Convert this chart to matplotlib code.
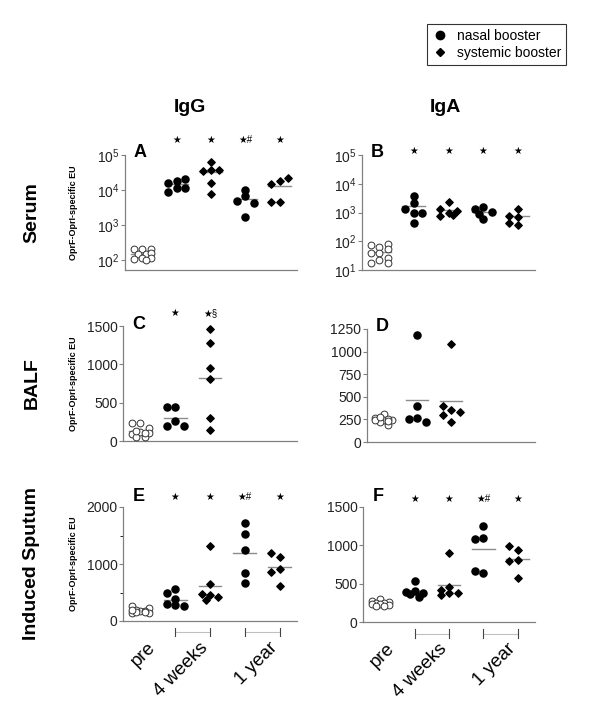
import numpy as np
import matplotlib
matplotlib.use('Agg')
import matplotlib.pyplot as plt
from matplotlib.lines import Line2D
from matplotlib.ticker import FixedLocator, NullLocator, MultipleLocator
import matplotlib.transforms as mtransforms

plt.rcParams['font.family'] = ['Liberation Sans', 'DejaVu Sans']
plt.rcParams['mathtext.default'] = 'regular'

# groups along x: pre, 4 weeks (nasal, systemic), 1 year (nasal, systemic)
time_labels = ['pre', '4 weeks', '1 year']
group_markers = ['open', 'nasal', 'systemic', 'nasal', 'systemic']

# A: IgG serum
igg_serum_pre = [205, 200, 210, 150, 145, 155, 112, 108, 115, 100]
igg_serum_nasal_4w = [18500, 16000, 21000, 11000, 11000, 8600]
igg_serum_syst_4w = [62000, 36000, 34000, 37000, 16000, 7700]
igg_serum_nasal_1y = [10000, 6500, 4900, 4300, 1650]
igg_serum_syst_1y = [18500, 14800, 22500, 4500, 4500]

# B: IgA serum
iga_serum_pre = [62, 74, 80, 54, 38, 38, 27, 22, 17, 18]
iga_serum_nasal_4w = [3850, 2090, 1360, 1000, 1000, 420]
iga_serum_syst_4w = [990, 1300, 2260, 1170, 760, 820]
iga_serum_nasal_1y = [1520, 1330, 1015, 578, 865]
iga_serum_syst_1y = [1365, 718, 780, 369, 445]

# C: IgG BALF
igg_balf_pre = [240, 240, 170, 115, 96, 105, 52, 52, 130, 100]
igg_balf_nasal_4w = [445, 445, 257, 192, 192]
igg_balf_syst_4w = [1460, 1273, 946, 807, 305, 148]

# D: IgA BALF
iga_balf_pre = [310, 265, 247, 247, 218, 192, 255, 240, 235, 280]
iga_balf_nasal_4w = [1180, 395, 265, 258, 218]
iga_balf_syst_4w = [1088, 358, 402, 332, 295, 218]

# E: IgG induced sputum
igg_sput_pre = [175, 268, 220, 200, 146, 134, 180, 160, 190, 150]
igg_sput_nasal_4w = [554, 484, 379, 292, 268, 280]
igg_sput_syst_4w = [1312, 641, 455, 466, 426, 367]
igg_sput_nasal_1y = [1720, 1522, 1242, 834, 659]
igg_sput_syst_1y = [921, 1131, 1201, 863, 618]

# F: IgA induced sputum
iga_sput_pre = [300, 280, 260, 250, 245, 240, 230, 220, 215, 210]
iga_sput_nasal_4w = [535, 400, 390, 380, 360, 320]
iga_sput_syst_4w = [900, 456, 422, 378, 378, 348]
iga_sput_nasal_1y = [1100, 1257, 1083, 639, 661]
iga_sput_syst_1y = [813, 943, 996, 791, 578]

# significance marks above each group
marks_A = ['', '★', '★', '★#', '★']
marks_B = ['', '★', '★', '★', '★']
marks_C = ['', '★', '★§']
marks_E = ['', '★', '★', '★#', '★']
marks_F = ['', '★', '★', '★#', '★']

W, H = 600, 718
fig = plt.figure(figsize=(W / 100, H / 100), dpi=100)


def add_axes_px(left, top, right, bottom):
    return fig.add_axes([left / W, 1 - bottom / H, (right - left) / W, (bottom - top) / H])


def swarm_offsets(ax, x0, vals, step=8.5, diam=6.5):
    pts = ax.transData.transform(np.column_stack([np.full(len(vals), x0), vals]))
    placed = []
    offs = []
    for y in pts[:, 1]:
        best, best_d = 0, -1
        for k in [0, -1, 1, -0.5, 0.5]:
            xp = k * step
            d = min([np.hypot(xp - px, y - py) for px, py in placed] + [99])
            if d >= diam:
                best = xp
                break
            if d > best_d:
                best, best_d = xp, d
        placed.append((best, y))
        offs.append(best)
    unit = ax.transData.transform((1, 0))[0] - ax.transData.transform((0, 0))[0]
    return x0 + np.array(offs) / unit


def style_axes(ax):
    for s in ['top', 'right']:
        ax.spines[s].set_visible(False)
    for s in ['left', 'bottom']:
        ax.spines[s].set_color('#808080')
        ax.spines[s].set_linewidth(0.9)
    ax.tick_params(axis='y', colors='#808080', labelcolor='#222222', labelsize=10,
                   length=3, width=0.8, pad=1)
    ax.tick_params(axis='y', which='minor', length=2, width=0.6)
    ax.set_xticks([])
    ax.set_xlim(-0.5, 4.5)


def draw_panel(ax, groups, letter, marks, star_y, letter_y):
    for i, vals in enumerate(groups):
        xs = swarm_offsets(ax, i, vals)
        kind = group_markers[i]
        if kind == 'open':
            ax.scatter(xs, vals, s=24, facecolors='white', edgecolors='#333333',
                       linewidths=0.7, zorder=3, clip_on=False)
        elif kind == 'nasal':
            ax.scatter(xs, vals, s=26, marker='o', color='black', zorder=3, clip_on=False)
        else:
            ax.scatter(xs, vals, s=14, marker='D', color='black', zorder=3, clip_on=False)
        ax.plot([i - 0.33, i + 0.33], [np.mean(vals)] * 2, color='#8c8c8c', lw=1, zorder=2)
    if marks:
        for i, m in enumerate(marks):
            if m:
                ax.text(i, star_y, m, transform=ax.get_xaxis_transform(), ha='center',
                        va='center', fontsize=7)
    ax.text(0.09, letter_y, letter, transform=ax.transAxes, ha='center', va='center',
            fontsize=13, fontweight='bold')


def brackets(ax):
    tr = mtransforms.blended_transform_factory(ax.transData, ax.transAxes)
    for a, b in [(1, 2), (3, 4)]:
        ax.plot([a, b], [-0.1, -0.1], color='#c0c0c0', lw=0.8, transform=tr, clip_on=False)
        for x in (a, b):
            ax.plot([x, x], [-0.065, -0.135], color='#444444', lw=0.8, transform=tr,
                    clip_on=False)
    for x, lab in zip([0, 1.5, 3.5], time_labels):
        ax.text(x + 0.35, -0.21, lab, transform=tr, rotation=45, rotation_mode='anchor',
                ha='right', va='center', fontsize=13.5)


# A
axA = add_axes_px(125, 155, 297, 270)
axA.set_yscale('log')
axA.set_ylim(51, 1e5)
style_axes(axA)
axA.yaxis.set_major_locator(FixedLocator([1e2, 1e3, 1e4, 1e5]))
axA.yaxis.set_minor_locator(NullLocator())
draw_panel(axA, [igg_serum_pre, igg_serum_nasal_4w, igg_serum_syst_4w,
                 igg_serum_nasal_1y, igg_serum_syst_1y], 'A', marks_A, 1.13, 1.02)

# B
axB = add_axes_px(362, 155, 535, 270)
axB.set_yscale('log')
axB.set_ylim(10, 1e5)
style_axes(axB)
axB.yaxis.set_major_locator(FixedLocator([1e1, 1e2, 1e3, 1e4, 1e5]))
axB.yaxis.set_minor_locator(NullLocator())
draw_panel(axB, [iga_serum_pre, iga_serum_nasal_4w, iga_serum_syst_4w,
                 iga_serum_nasal_1y, iga_serum_syst_1y], 'B', marks_B, 1.035, 1.02)

# C
axC = add_axes_px(123, 326, 297, 441)
axC.set_ylim(0, 1500)
style_axes(axC)
axC.yaxis.set_major_locator(MultipleLocator(500))
draw_panel(axC, [igg_balf_pre, igg_balf_nasal_4w, igg_balf_syst_4w], 'C', marks_C, 1.11, 1.01)

# D
axD = add_axes_px(367, 329, 535, 442)
axD.set_ylim(0, 1250)
style_axes(axD)
axD.yaxis.set_major_locator(MultipleLocator(250))
draw_panel(axD, [iga_balf_pre, iga_balf_nasal_4w, iga_balf_syst_4w], 'D', None, 1.1, 1.02)

# E
axE = add_axes_px(123, 507, 297, 621)
axE.set_ylim(0, 2000)
style_axes(axE)
axE.yaxis.set_major_locator(MultipleLocator(1000))
axE.yaxis.set_minor_locator(MultipleLocator(500))
draw_panel(axE, [igg_sput_pre, igg_sput_nasal_4w, igg_sput_syst_4w,
                 igg_sput_nasal_1y, igg_sput_syst_1y], 'E', marks_E, 1.09, 1.09)
brackets(axE)

# F
axF = add_axes_px(363, 507, 535, 622)
axF.set_ylim(0, 1500)
style_axes(axF)
axF.yaxis.set_major_locator(MultipleLocator(500))
draw_panel(axF, [iga_sput_pre, iga_sput_nasal_4w, iga_sput_syst_4w,
                 iga_sput_nasal_1y, iga_sput_syst_1y], 'F', marks_F, 1.07, 1.09)
brackets(axF)

# column titles, row labels, y labels
fig.text(190 / W, 1 - 108 / H, 'IgG', ha='center', va='center', fontsize=14, fontweight='bold')
fig.text(445 / W, 1 - 108 / H, 'IgA', ha='center', va='center', fontsize=14, fontweight='bold')
for ax, lab in [(axA, 'Serum'), (axC, 'BALF'), (axE, 'Induced Sputum')]:
    pos = ax.get_position()
    yc = (pos.y0 + pos.y1) / 2
    fig.text(32 / W, yc, lab, rotation=90, ha='center', va='center', fontsize=14,
             fontweight='bold')
    fig.text(74 / W, yc, 'OprF-OprI-specific EU', rotation=90, ha='center', va='center',
             fontsize=6.5, fontweight='bold')

handles = [Line2D([], [], marker='o', color='black', ls='none', markersize=6),
           Line2D([], [], marker='D', color='black', ls='none', markersize=4.5)]
leg = fig.legend(handles, ['nasal booster', 'systemic booster'], loc='upper right',
                 bbox_to_anchor=(566 / W, 1 - 24 / H), fancybox=False, edgecolor='black',
                 fontsize=10, handlelength=1.2, handletextpad=0.6, borderpad=0.35,
                 labelspacing=0.25, borderaxespad=0)
leg.get_frame().set_linewidth(0.8)

fig.savefig('out.png', dpi=100)
